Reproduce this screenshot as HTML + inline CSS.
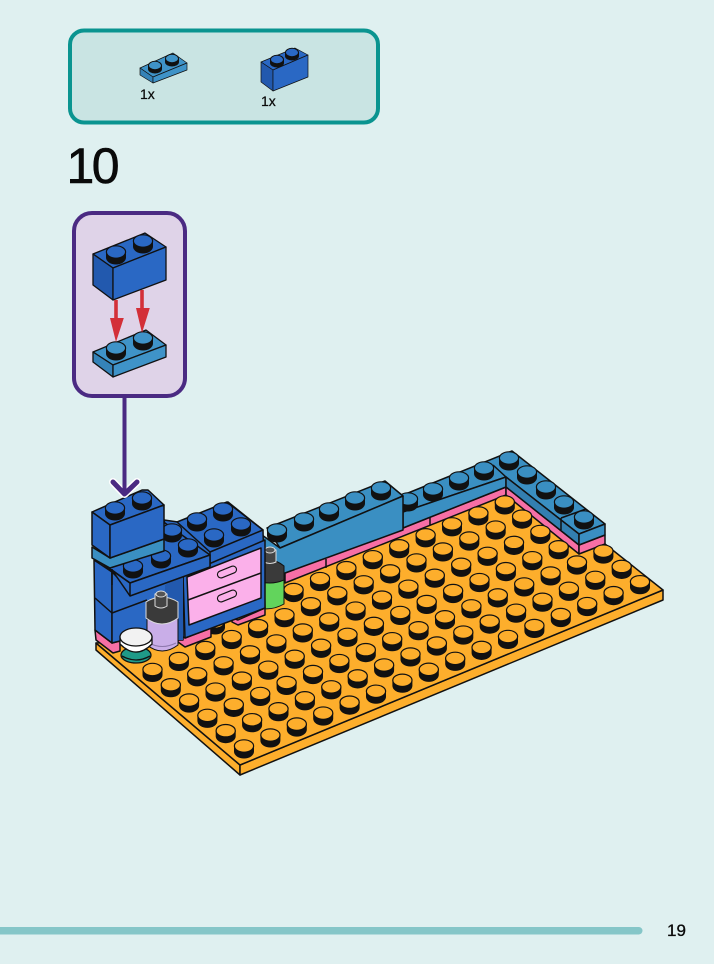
<!DOCTYPE html>
<html><head><meta charset="utf-8"><style>
html,body{margin:0;padding:0;background:#dff0f0}
svg{display:block}
text{font-family:"Liberation Sans",sans-serif;fill:#0a0a0a}
</style></head><body>
<svg width="714" height="964" viewBox="0 0 714 964" xmlns="http://www.w3.org/2000/svg">
<defs>
<g id="s"><path d="M-10 0V5.500A10 7 0 0 0 10 5.500V0Z" fill="#111"/><ellipse rx="9.600" ry="6.200" stroke="#111" stroke-width="1.200"/></g>
<g id="t"><path d="M-7 0V3.500A7 4.500 0 0 0 7 3.500V0Z" fill="#111"/><ellipse rx="6.500" ry="4.200" stroke="#111" stroke-width="1"/></g>
<g id="r9">
<use href="#s" x="0" y="0"/><use href="#s" x="26.4" y="-10.95"/><use href="#s" x="52.8" y="-21.9"/><use href="#s" x="79.2" y="-32.85"/><use href="#s" x="105.6" y="-43.8"/><use href="#s" x="132" y="-54.75"/><use href="#s" x="158.4" y="-65.7"/><use href="#s" x="184.8" y="-76.65"/><use href="#s" x="211.2" y="-87.6"/>
</g>
<g id="r15">
<use href="#r9"/><use href="#s" x="237.6" y="-98.55"/><use href="#s" x="264" y="-109.5"/><use href="#s" x="290.4" y="-120.45"/><use href="#s" x="316.8" y="-131.4"/><use href="#s" x="343.2" y="-142.35"/><use href="#s" x="369.6" y="-153.3"/>
</g>
<g id="r16"><use href="#r15"/><use href="#s" x="396" y="-164.25"/></g>
</defs>
<rect width="714" height="964" fill="#dff0f0"/>

<!-- parts box -->
<rect x="70" y="30.500" width="308" height="92" rx="14" fill="#c9e4e3" stroke="#0a9490" stroke-width="4"/>
<g stroke="#111" stroke-width=".7" stroke-linejoin="round">
<path d="M140 68L173 53 187 63 153 77Z" fill="#3f93c8"/><path d="M140 68L153 77V83L140 75Z" fill="#3583b8"/><path d="M153 77L187 63V70L153 83Z" fill="#3f93c8"/>
<path d="M261 62L295 48 308 55 273 70Z" fill="#2a68c4"/><path d="M261 62L273 70V91L261 82Z" fill="#2259ae"/><path d="M273 70L308 55V77L273 91Z" fill="#2a68c4"/>
</g>
<use href="#t" x="155" y="65.500" fill="#3f93c8"/><use href="#t" x="172" y="58.500" fill="#3f93c8"/>
<use href="#t" x="277" y="59.500" fill="#2a68c4"/><use href="#t" x="292" y="52.500" fill="#2a68c4"/>
<text x="140" y="99" font-size="14" stroke="#0a0a0a" stroke-width=".25">1x</text>
<text x="261" y="106" font-size="14" stroke="#0a0a0a" stroke-width=".25">1x</text>
<text x="66.500" y="183" font-size="50" letter-spacing="-2.500" stroke="#0a0a0a" stroke-width=".6">10</text>

<!-- sub-assembly -->
<rect x="74" y="213" width="111" height="183" rx="18" fill="#dfd3e8" stroke="#4a2a82" stroke-width="4"/>
<path d="M124.500 397V492" stroke="#4a2a82" stroke-width="4"/>
<g stroke="#111" stroke-width="1.300" stroke-linejoin="round">
<path d="M93 352L146 330 166 345 113 365Z" fill="#3f93c8"/><path d="M93 352L113 365V377L93 362Z" fill="#3583b8"/><path d="M113 365L166 345V357L113 377Z" fill="#3f93c8"/>
</g>
<use href="#s" x="116" y="348" fill="#3f93c8"/><use href="#s" x="143" y="338" fill="#3f93c8"/>
<g stroke="#111" stroke-width="1.300" stroke-linejoin="round">
<path d="M93 254L145 233 166 247 113 268Z" fill="#2a68c4"/><path d="M93 254L113 268V300L93 285Z" fill="#2259ae"/><path d="M113 268L166 247V280L113 300Z" fill="#2a68c4"/>
</g>
<use href="#s" x="116" y="252" fill="#2a68c4"/><use href="#s" x="143" y="241" fill="#2a68c4"/>
<g fill="#d32f38"><path d="M114.200 300h3.600V318h6L116 342 110 318h4.200Z"/><path d="M140.200 290h3.600V308h6L142 333 136 308h4.200Z"/></g>

<!-- base plate -->
<g stroke="#111" stroke-width="1.500" stroke-linejoin="round">
<path d="M96 643L240 765V775L96 650Z" fill="#fdae2c"/>
<path d="M240 765L663 590V600L240 775Z" fill="#fdae2c"/>
<path d="M96 643L240 765 663 590 605 544 506 490 285 578 150 640Z" fill="#fdae2c"/>

<!-- back wall pink -->
<path d="M285 573L403 528 506 487V495L285 583Z" fill="#f76fa5"/>
<path d="M506 487L579 545V554L506 495Z" fill="#f76fa5"/>
<path d="M579 545L605 535V544L579 554Z" fill="#f76fa5"/>
<path d="M326 559V568M430 517V525" fill="none"/>
<!-- back wall blue plates -->
<path d="M403 495L512 451 605 524 579 534 506 477 403 512Z" fill="#3a8fc2"/>
<path d="M403 512L506 477V487L403 528Z" fill="#3a8fc2"/>
<path d="M506 477L579 534V545L506 487Z" fill="#337fb0"/>
<path d="M579 534L605 524V535L579 545Z" fill="#3a8fc2"/>
<path d="M493 465L506 477M561 518L586 509M561 518V530" fill="none"/>
</g>
<use href="#s" x="408" y="499" fill="#3a8fc2"/><use href="#s" x="433" y="489" fill="#3a8fc2"/><use href="#s" x="459" y="478" fill="#3a8fc2"/><use href="#s" x="484" y="468" fill="#3a8fc2"/><use href="#s" x="509" y="458" fill="#3a8fc2"/><use href="#s" x="527" y="472" fill="#3a8fc2"/><use href="#s" x="546" y="487" fill="#3a8fc2"/><use href="#s" x="564" y="502" fill="#3a8fc2"/><use href="#s" x="584" y="517" fill="#3a8fc2"/>
<!-- long brick -->
<g stroke="#111" stroke-width="1.500" stroke-linejoin="round">
<path d="M267 528L385 481 403 496 280 548Z" fill="#3a8fc2"/>
<path d="M262 535L280 548 403 496V530L285 573 262 580Z" fill="#3a8fc2"/>
</g>
<use href="#s" x="277" y="530" fill="#3a8fc2"/><use href="#s" x="304" y="519" fill="#3a8fc2"/><use href="#s" x="329" y="509" fill="#3a8fc2"/><use href="#s" x="355" y="498" fill="#3a8fc2"/><use href="#s" x="381" y="488" fill="#3a8fc2"/>

<!-- plate studs -->
<g fill="#fdae2c">
<use href="#s" x="215" y="622"/>
<use href="#r9" transform="translate(293.600 589.600)"/>
<use href="#r15" transform="translate(152.500 669.500)"/>
<use href="#r15" transform="translate(170.800 684.800)"/>
<use href="#r15" transform="translate(189.100 700.100)"/>
<use href="#r16" transform="translate(207.400 715.400)"/>
<use href="#r16" transform="translate(225.700 730.700)"/>
<use href="#r16" transform="translate(244 746)"/>
</g>

<!-- green bottle -->
<g stroke="#111" stroke-width="1">
<path d="M255 575H284V604Q270 612 255 607Z" fill="#62d45c"/>
<path d="M255 562Q272 556 284 566V580Q270 586 255 580Z" fill="#3a3a3a"/>
<path d="M264 550Q270 547 276 550V562Q270 565 264 562Z" fill="#444" stroke="#ddd"/>
<ellipse cx="270" cy="550" rx="5" ry="3" fill="#555" stroke="#ddd"/>
</g>

<!-- cabinet -->
<g stroke="#111" stroke-width="1.500" stroke-linejoin="round">
<path d="M232 618L238 620 265 608V615L238 625 232 622Z" fill="#f76fa5"/>
<path d="M178 633L185 637 211 627V637L185 647 178 642Z" fill="#f76fa5"/>
<path d="M164 520L178 522 228 502 263 530 265 608 185 638 178 634 176 575Z" fill="#2a68c4"/>
<path d="M177 522L227 502 263 530 210 552Z" fill="#2a68c4"/>
<path d="M210 552V566M183 575L265 540V608L185 638Z" fill="#2a68c4"/>
<path d="M187 577L261 548V598L189 625Z" fill="#fbb0ea"/>
<path d="M188 600L261 573" fill="none"/>
</g>
<g fill="#fbb0ea" stroke="#111" stroke-width="1.100">
<rect x="217" y="568.500" width="20" height="7" rx="3.500" transform="rotate(-22 227 572)"/>
<rect x="217" y="592.500" width="20" height="7" rx="3.500" transform="rotate(-22 227 596)"/>
</g>
<use href="#s" x="197" y="519" fill="#2a68c4"/><use href="#s" x="223" y="509" fill="#2a68c4"/><use href="#s" x="241" y="524" fill="#2a68c4"/><use href="#s" x="214" y="535" fill="#2a68c4"/>

<!-- left body -->
<g stroke="#111" stroke-width="1.500" stroke-linejoin="round">
<path d="M95 630L112 643 120 641V651L113 653 96 640Z" fill="#f76fa5"/>
<path d="M94 560L112 572V643L95 630Z" fill="#2a68c4"/>
<path d="M112 572L130 590 183 572V640L120 641 112 643Z" fill="#2a68c4"/>
<path d="M165 585L183 576V640H165Z" fill="#2259ae" stroke="none"/>
<path d="M95 598L112 613 147 600" fill="none"/>
<path d="M94 558L165 523 210 555 130 583Z" fill="#2a68c4"/>
<path d="M112 570L130 583 210 555V567L130 596Z" fill="#2a68c4"/>
<path d="M130 583V596M112 569V585M94 558L130 583" fill="none"/>
</g>
<use href="#s" x="172" y="530" fill="#2a68c4"/><use href="#s" x="133" y="566" fill="#2a68c4"/><use href="#s" x="161" y="556" fill="#2a68c4"/><use href="#s" x="188" y="545" fill="#2a68c4"/>
<g stroke="#111" stroke-width="1.500" stroke-linejoin="round">
<path d="M92 547L110 558 164 539V551L110 568 92 558Z" fill="#3a8fc2"/>
<path d="M92 512L142 490 148 490 164 505 110 525Z" fill="#2a68c4"/>
<path d="M92 512L110 525V558L92 545Z" fill="#2a68c4"/>
<path d="M110 525L164 505V539L110 558Z" fill="#2a68c4"/>
</g>
<use href="#s" x="115" y="508" fill="#2a68c4"/><use href="#s" x="142" y="498" fill="#2a68c4"/>

<!-- lavender bottle -->
<g stroke="#111" stroke-width="1">
<path d="M147 618V645Q162 657 178 645V618Z" fill="#c9aee8"/>
<path d="M149 643Q162 650 176 643" fill="none" stroke="#8d78ad"/>
<path d="M146 602Q162 592 178 602V618Q162 630 146 618Z" fill="#3a3a3a" stroke="#ddd"/>
<path d="M155 594Q161 591 167 594V606Q161 610 155 606Z" fill="#444" stroke="#ddd"/>
<ellipse cx="161" cy="594" rx="5" ry="3" fill="#555" stroke="#ddd"/>
</g>
<!-- white round -->
<g stroke="#111" stroke-width="1.300">
<ellipse cx="136" cy="655" rx="15" ry="8" fill="#1f9a88"/>
<path d="M122 656Q136 664 150 656" fill="none"/>
<path d="M120 637V644Q136 660 152 644V637Z" fill="#fff"/>
<ellipse cx="136" cy="637" rx="16" ry="9" fill="#f2f2f2"/>
</g>

<!-- arrow head -->
<path d="M113 482L124.500 494 137 482" fill="none" stroke="#fff" stroke-width="8" stroke-linecap="round" stroke-linejoin="round"/>
<path d="M124.500 480V492" stroke="#4a2a82" stroke-width="4"/>
<path d="M113 482L124.500 494 137 482" fill="none" stroke="#4a2a82" stroke-width="5" stroke-linecap="round" stroke-linejoin="round"/>

<!-- footer -->
<rect x="-10" y="927" width="652.500" height="7.500" rx="3.700" fill="#85c6c8"/>
<text x="667" y="936" font-size="17" stroke="#0a0a0a" stroke-width=".3">19</text>
</svg>
</body></html>
